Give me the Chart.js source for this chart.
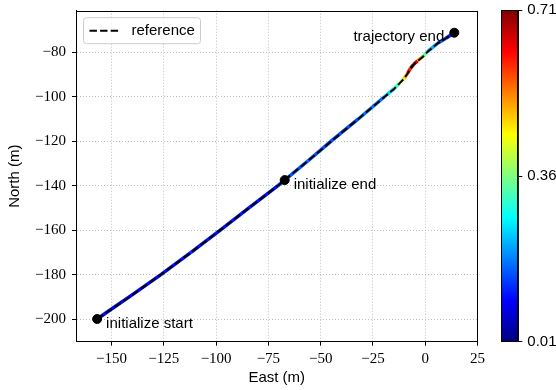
<!DOCTYPE html>
<html>
<head>
<meta charset="utf-8">
<script src="https://cdn.jsdelivr.net/npm/chart.js@4"></script>
<style>
  html, body { margin: 0; padding: 0; background: #fff; }
  #wrap { position: relative; width: 556px; height: 390px; overflow: hidden; }
  #mainBox { position: absolute; left: 0; top: 0; width: 495px; height: 390px; }
  #barBox { position: absolute; left: 495px; top: 0; width: 61px; height: 390px; }
</style>
</head>
<body>
<div id="wrap">
  <div id="mainBox"><canvas id="trajChart"></canvas></div>
  <div id="barBox"><canvas id="colorBar"></canvas></div>
</div>
<script>

// estimated trajectory (colored by error)
const trajEast  = [-156.9, -150.0, -140.0, -126.4, -112.0, -98.0, -84.0, -70.4, -67.2, -56.0, -45.0, -32.0, -19.5, -15.0, -12.4, -10.0, -8.4, -7.1, -5.5, -3.6, -1.2, 1.1, 5.9, 9.9, 13.9];
const trajNorth = [-200.0, -195.5, -189.0, -180.0, -170.0, -160.0, -149.8, -140.0, -137.5, -128.8, -120.0, -110.0, -100.0, -96.5, -94.0, -91.7, -89.4, -87.2, -85.4, -83.8, -82.0, -79.7, -76.0, -73.7, -71.2];
const trajError = [0.10, 0.11, 0.09, 0.11, 0.10, 0.12, 0.10, 0.12, 0.17, 0.14, 0.16, 0.14, 0.21, 0.27, 0.36, 0.45, 0.55, 0.66, 0.71, 0.60, 0.42, 0.26, 0.17, 0.13, 0.12];

// reference trajectory (dashed)
const refEast  = [-156.9, -150.0, -140.0, -126.4, -112.0, -98.0, -84.0, -70.4, -67.2, -56.0, -45.0, -32.0, -19.5, -15.0, -12.4, -10.0, -8.4, -7.1, -5.5, -3.6, -1.2, 1.1, 5.9, 9.9, 13.9];
const refNorth = [-200.0, -195.6, -189.1, -180.0, -170.1, -160.0, -149.8, -140.0, -137.5, -128.8, -120.1, -110.0, -100.1, -96.6, -94.1, -91.8, -89.5, -87.3, -85.5, -83.9, -82.1, -79.8, -76.0, -73.7, -71.2];

// labelled points
const markerEast   = [-156.9, -67.2, 13.9];
const markerNorth  = [-200.0, -137.5, -71.2];
const markerLabels = ["initialize start", "initialize end", "trajectory end"];

const eastTicks  = [-150, -125, -100, -75, -50, -25, 0, 25];
const northTicks = [-200, -180, -160, -140, -120, -100, -80];
const errorTicks = [0.01, 0.36, 0.71];
const errorMin = 0.01;
const errorMax = 0.71;

const sansFont  = "'Liberation Sans', Arial, sans-serif";
const serifFont = "'Liberation Serif', 'Times New Roman', serif";

Chart.defaults.font.family = sansFont;
Chart.defaults.color = "#000";

function clamp01(v) { return Math.max(0, Math.min(1, v)); }

// matplotlib-like jet colormap
function jet(t) {
  t = clamp01(t);
  const r = clamp01(1.5 - Math.abs(4 * t - 3));
  const g = clamp01(1.5 - Math.abs(4 * t - 2));
  const b = clamp01(1.5 - Math.abs(4 * t - 1));
  return `rgb(${Math.round(r * 255)},${Math.round(g * 255)},${Math.round(b * 255)})`;
}

function errColor(e) {
  return jet((e - errorMin) / (errorMax - errorMin));
}

function fmtTick(v) {
  return v < 0 ? "\u2212" + Math.abs(v) : String(v);
}

// keep chart area where we put it (no extra room for edge labels)
function noEdgePadding(s) {
  s.paddingTop = 0;
  s.paddingBottom = 0;
}

const framePlugin = {
  id: "frame",
  afterDatasetsDraw(chart) {
    const { ctx, chartArea: a } = chart;
    const l = Math.round(a.left) + 0.5, t = Math.round(a.top) + 0.5;
    const r = Math.round(a.right) - 0.5, b = Math.round(a.bottom) - 0.5;
    ctx.save();
    ctx.strokeStyle = "#000";
    ctx.lineWidth = 1;
    ctx.strokeRect(l, t, r - l, b - t);
    ctx.restore();
  }
};

const annotatePlugin = {
  id: "annotate",
  afterDatasetsDraw(chart) {
    const { ctx, scales } = chart;
    ctx.save();
    ctx.font = "15px " + sansFont;
    ctx.fillStyle = "#000";
    ctx.textBaseline = "middle";
    markerLabels.forEach((txt, i) => {
      const px = scales.x.getPixelForValue(markerEast[i]);
      const py = scales.y.getPixelForValue(markerNorth[i]);
      if (i === markerLabels.length - 1) {
        ctx.textAlign = "right";
        ctx.fillText(txt, px - 10, py + 4);
      } else {
        ctx.textAlign = "left";
        ctx.fillText(txt, px + 9, py + 5);
      }
    });
    ctx.restore();
  }
};

const legendPlugin = {
  id: "refLegend",
  afterDraw(chart) {
    const { ctx, chartArea: a } = chart;
    const x = a.left + 7.5, y = a.top + 7, w = 117, h = 26, rad = 3;
    ctx.save();
    ctx.beginPath();
    ctx.moveTo(x + rad, y);
    ctx.arcTo(x + w, y, x + w, y + h, rad);
    ctx.arcTo(x + w, y + h, x, y + h, rad);
    ctx.arcTo(x, y + h, x, y, rad);
    ctx.arcTo(x, y, x + w, y, rad);
    ctx.closePath();
    ctx.fillStyle = "rgba(255,255,255,0.8)";
    ctx.fill();
    ctx.strokeStyle = "#cccccc";
    ctx.lineWidth = 1;
    ctx.stroke();

    ctx.beginPath();
    ctx.setLineDash([7.4, 3.2]);
    ctx.strokeStyle = "#000";
    ctx.lineWidth = 2;
    ctx.moveTo(x + 6, y + h / 2);
    ctx.lineTo(x + 37, y + h / 2);
    ctx.stroke();
    ctx.setLineDash([]);

    ctx.font = "15px " + sansFont;
    ctx.fillStyle = "#000";
    ctx.textBaseline = "middle";
    ctx.textAlign = "left";
    ctx.fillText("reference", x + 48, y + h / 2);
    ctx.restore();
  }
};

function toPoints(xs, ys) {
  return xs.map((x, i) => ({ x: x, y: ys[i] }));
}

const gridOpts = { color: "#b0b0b0", lineWidth: 0.8, tickColor: "#000", tickLength: 4, tickWidth: 1 };
const borderOpts = { dash: [1, 2], color: "#000", width: 1 };

new Chart(document.getElementById("trajChart"), {
  type: "scatter",
  data: {
    datasets: [
      {
        label: "markers",
        data: toPoints(markerEast, markerNorth),
        pointRadius: 4.5,
        pointBackgroundColor: "#000",
        pointBorderColor: "#000",
        showLine: false,
        order: 0
      },
      {
        label: "reference",
        data: toPoints(refEast, refNorth),
        showLine: true,
        borderColor: "#000",
        borderWidth: 2,
        borderDash: [7.4, 3.2],
        pointRadius: 0,
        order: 1
      },
      {
        label: "trajectory",
        data: toPoints(trajEast, trajNorth),
        showLine: true,
        borderWidth: 3.5,
        borderColor: errColor(trajError[0]),
        pointRadius: 0,
        segment: {
          borderColor: c => errColor((trajError[c.p0DataIndex] + trajError[c.p1DataIndex]) / 2)
        },
        order: 2
      }
    ]
  },
  options: {
    responsive: true,
    maintainAspectRatio: false,
    animation: false,
    events: [],
    layout: { padding: { top: 10.7, right: 17.5, bottom: 0, left: 0 } },
    plugins: { legend: { display: false }, tooltip: { enabled: false } },
    scales: {
      x: {
        type: "linear",
        min: -167,
        max: 25,
        afterBuildTicks: s => { s.ticks = eastTicks.map(v => ({ value: v })); },
        afterFit: s => { s.height = 48.3; },
        ticks: { font: { family: serifFont, size: 15 }, color: "#000", padding: 4, maxRotation: 0, autoSkip: false, callback: fmtTick },
        grid: gridOpts,
        border: borderOpts,
        title: { display: true, text: "East (m)", font: { family: sansFont, size: 15 }, color: "#000", padding: { top: 0, bottom: 3 } }
      },
      y: {
        type: "linear",
        min: -210.2,
        max: -61.3,
        afterBuildTicks: s => { s.ticks = northTicks.map(v => ({ value: v })); },
        afterFit: s => { s.width = 76; noEdgePadding(s); },
        ticks: { font: { family: serifFont, size: 15 }, color: "#000", padding: 6, autoSkip: false, callback: fmtTick },
        grid: gridOpts,
        border: borderOpts,
        title: { display: true, text: "North (m)", font: { family: sansFont, size: 15 }, color: "#000", padding: { top: 6, bottom: 0 } }
      }
    }
  },
  plugins: [framePlugin, annotatePlugin, legendPlugin]
});

function jetGradient(chart) {
  const a = chart.chartArea;
  if (!a) return jet(0.5);
  const g = chart.ctx.createLinearGradient(0, a.bottom, 0, a.top);
  for (let i = 0; i <= 40; i++) {
    g.addColorStop(i / 40, jet(i / 40));
  }
  return g;
}

new Chart(document.getElementById("colorBar"), {
  type: "bar",
  data: {
    labels: ["error"],
    datasets: [{
      data: [[errorMin, errorMax]],
      backgroundColor: c => jetGradient(c.chart),
      borderWidth: 0,
      barPercentage: 1,
      categoryPercentage: 1
    }]
  },
  options: {
    responsive: true,
    maintainAspectRatio: false,
    animation: false,
    events: [],
    layout: { padding: { top: 10.3, right: 0, bottom: 48.3, left: 6 } },
    plugins: { legend: { display: false }, tooltip: { enabled: false } },
    scales: {
      x: { display: false },
      y: {
        position: "right",
        min: errorMin,
        max: errorMax,
        afterBuildTicks: s => { s.ticks = errorTicks.map(v => ({ value: v })); },
        afterFit: s => { s.width = 37.7; noEdgePadding(s); },
        ticks: { font: { family: sansFont, size: 15 }, color: "#000", padding: 5, callback: v => v.toFixed(2) },
        grid: { drawOnChartArea: false, tickColor: "#000", tickLength: 4, tickWidth: 1 },
        border: { color: "#000", width: 1 }
      }
    }
  },
  plugins: [framePlugin]
});

</script>
</body>
</html>
